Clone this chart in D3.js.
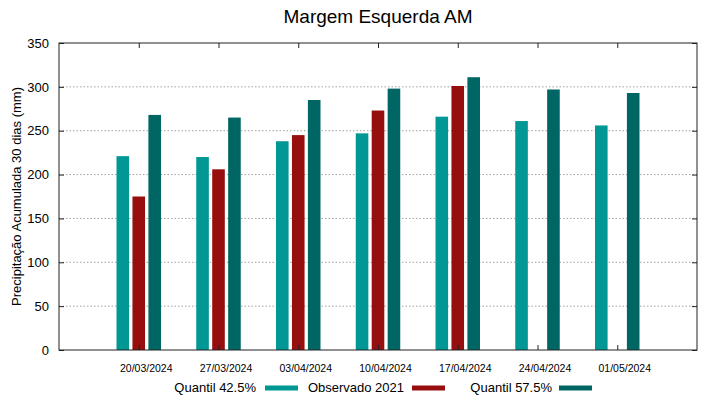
<!DOCTYPE html>
<html>
<head>
<meta charset="utf-8">
<script src="https://cdn.jsdelivr.net/npm/d3@7"></script>
<style>
  body { margin: 0; background: #fff; }
  text { font-family: "Liberation Sans", Arial, sans-serif; }
</style>
</head>
<body>
<div id="chart"></div>
<script>
// data
const dates = ["20/03/2024", "27/03/2024", "03/04/2024", "10/04/2024", "17/04/2024", "24/04/2024", "01/05/2024"];
const q425 = [221, 220, 238, 247, 266, 261, 256];
const obs2021 = [175, 206, 245, 273, 301, null, null];
const q575 = [268, 265, 285, 298, 311, 297, 293];
const yTicks = [0, 50, 100, 150, 200, 250, 300, 350];

const seriesNames = ["Quantil 42.5%", "Observado 2021", "Quantil 57.5%"];
const seriesColors = ["#009794", "#960e0e", "#006663"];
const series = [q425, obs2021, q575];

const width = 719, height = 399;
const margin = { left: 59, right: 22, top: 43, bottom: 49 };

const svg = d3.select("#chart").append("svg")
  .attr("width", width)
  .attr("height", height);

const x = d3.scaleLinear()
  .domain([-1, dates.length])
  .range([margin.left, width - margin.right]);

const y = d3.scaleLinear()
  .domain([0, 350])
  .range([height - margin.bottom, margin.top]);

const barOffset = 0.2, barWidth = 0.158;

// dotted grid
svg.append("g")
  .selectAll("line")
  .data(yTicks.filter(d => d > 0 && d < 350))
  .join("line")
  .attr("x1", x(-1)).attr("x2", x(dates.length))
  .attr("y1", d => y(d)).attr("y2", d => y(d))
  .attr("stroke", "#a0a0a0")
  .attr("stroke-width", 1)
  .attr("stroke-dasharray", "1.5,2");

// bars
series.forEach((vals, s) => {
  svg.append("g")
    .selectAll("rect")
    .data(vals.map((v, i) => ({ v, i })).filter(d => d.v != null))
    .join("rect")
    .attr("x", d => x(d.i + (s - 1) * barOffset - barWidth / 2))
    .attr("width", x(barWidth) - x(0))
    .attr("y", d => y(d.v))
    .attr("height", d => y(0) - y(d.v))
    .attr("fill", seriesColors[s]);
});

// frame
svg.append("rect")
  .attr("x", x(-1)).attr("y", y(350))
  .attr("width", x(dates.length) - x(-1))
  .attr("height", y(0) - y(350))
  .attr("fill", "none")
  .attr("stroke", "#222")
  .attr("stroke-width", 1);

// y axis ticks (inward, both sides)
const yAxisL = d3.axisLeft(y).tickValues(yTicks).tickSize(-5).tickPadding(10);
svg.append("g")
  .attr("transform", `translate(${x(-1)},0)`)
  .call(yAxisL)
  .call(g => g.select(".domain").remove())
  .call(g => g.selectAll("line").attr("stroke", "#222"))
  .call(g => g.selectAll("text").attr("font-size", 13).attr("fill", "#000")
    .attr("font-family", "Liberation Sans, Arial, sans-serif"));

svg.append("g")
  .attr("transform", `translate(${x(dates.length)},0)`)
  .call(d3.axisRight(y).tickValues(yTicks).tickSize(-5).tickFormat(""))
  .call(g => g.select(".domain").remove())
  .call(g => g.selectAll("line").attr("stroke", "#222"));

// x axis ticks (inward, top and bottom); labels sit a bit right of the tick
const xAxisB = d3.axisBottom(x)
  .tickValues(d3.range(dates.length))
  .tickFormat(i => dates[i])
  .tickSize(-5).tickPadding(15);
svg.append("g")
  .attr("transform", `translate(0,${y(0)})`)
  .call(xAxisB)
  .call(g => g.select(".domain").remove())
  .call(g => g.selectAll("line").attr("stroke", "#222"))
  .call(g => g.selectAll("text").attr("font-size", 10.5).attr("fill", "#000")
    .attr("dx", 7)
    .attr("font-family", "Liberation Sans, Arial, sans-serif"));

svg.append("g")
  .attr("transform", `translate(0,${y(350)})`)
  .call(d3.axisTop(x).tickValues(d3.range(dates.length)).tickSize(-5).tickFormat(""))
  .call(g => g.select(".domain").remove())
  .call(g => g.selectAll("line").attr("stroke", "#222"));

// title
svg.append("text")
  .attr("x", (x(-1) + x(dates.length)) / 2)
  .attr("y", 23)
  .attr("text-anchor", "middle")
  .attr("font-size", 19)
  .text("Margem Esquerda AM");

// y label
svg.append("text")
  .attr("transform", `translate(21,${(y(0) + y(350)) / 2}) rotate(-90)`)
  .attr("text-anchor", "middle")
  .attr("font-size", 13)
  .text("Precipitação Acumulada 30 dias (mm)");

// legend
const legendItems = [
  { textEnd: 256, lineX: 265 },
  { textEnd: 404, lineX: 412 },
  { textEnd: 552, lineX: 559 }
];
legendItems.forEach((d, i) => {
  svg.append("text")
    .attr("x", d.textEnd)
    .attr("y", 392)
    .attr("text-anchor", "end")
    .attr("font-size", 13)
    .text(seriesNames[i]);
  svg.append("line")
    .attr("x1", d.lineX).attr("x2", d.lineX + 33)
    .attr("y1", 388).attr("y2", 388)
    .attr("stroke", seriesColors[i])
    .attr("stroke-width", 5);
});
</script>
</body>
</html>
